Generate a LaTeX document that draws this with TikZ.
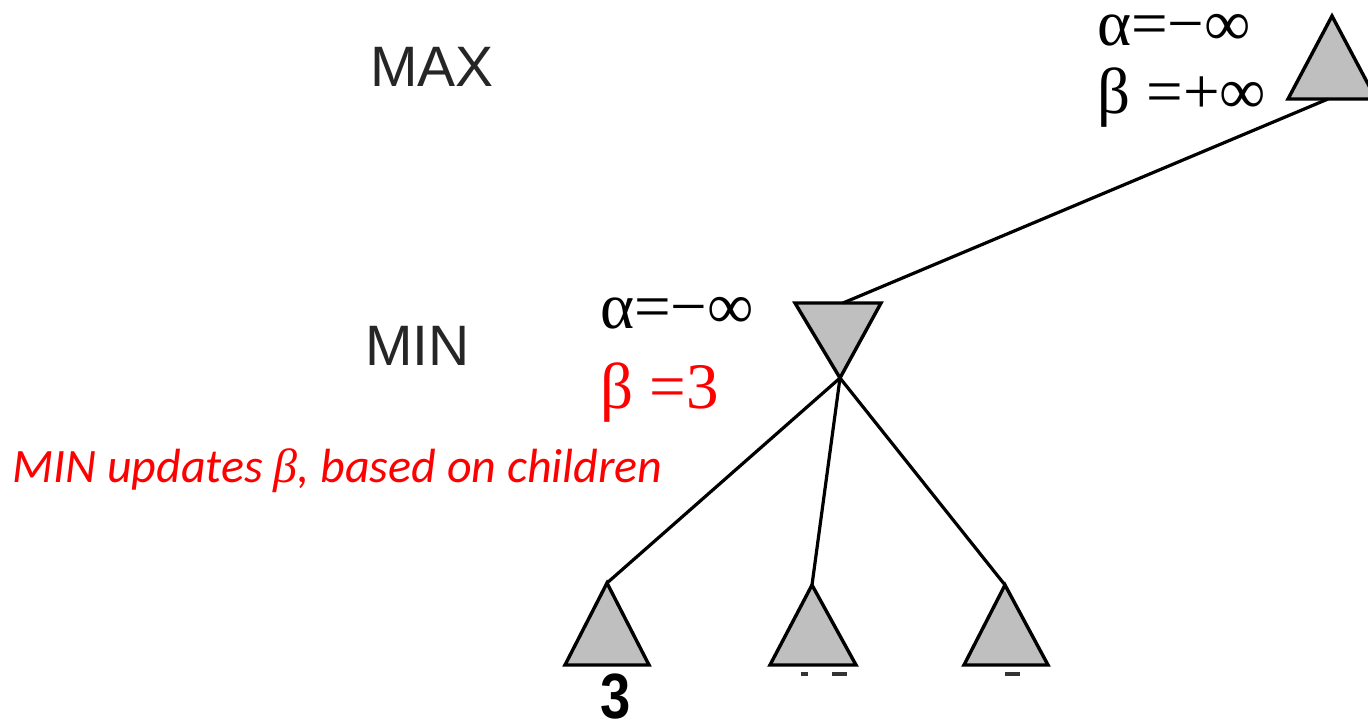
\documentclass[tikz,border=0pt]{standalone}
\usepackage{fontspec}
\setmainfont{Liberation Serif}
\newfontfamily\arialf{Liberation Sans}
\newfontfamily\calif{Carlito}
\begin{document}
\begin{tikzpicture}[x=1pt,y=-1pt,
  tri/.style={draw=black,fill=gray!50,line width=3.4pt,line join=miter},
  edge/.style={draw=black,line width=3.2pt},
  lvl/.style={anchor=base west,inner sep=0pt,text=black!85,font=\arialf\fontsize{57}{64}\selectfont},
  ab/.style={anchor=base west,inner sep=0pt,font=\fontsize{65}{72}\selectfont},
  leaflbl/.style={anchor=base,inner sep=0pt,font=\arialf\bfseries\fontsize{64}{70}\selectfont}]
\useasboundingbox (0,0) rectangle (1368,723);
\fill[white] (0,0) rectangle (1368,723);
\begin{scope}
\clip (0,0) rectangle (1368,723);
% root (MAX)
\coordinate (rA) at (1332,16);
\coordinate (rL) at (1288,99);
\coordinate (rR) at (1376,99);
\coordinate (rB) at (1328,99);
\draw[tri] (rA) -- (rL) -- (rR) -- cycle;
% MIN node
\coordinate (mL) at (795,303);
\coordinate (mR) at (881,303);
\coordinate (mB) at (840,378);
\coordinate (mT) at (843,303);
\draw[tri] (mL) -- (mR) -- (mB) -- cycle;
% leaves
\coordinate (l1) at (607,583);
\draw[tri] (l1) -- (565,665) -- (649,665) -- cycle;
\coordinate (l2) at (812,585);
\draw[tri] (l2) -- (770,665) -- (856,665) -- cycle;
\coordinate (l3) at (1005,585);
\draw[tri] (l3) -- (964,665) -- (1048,665) -- cycle;
\end{scope}
% connectors
\draw[edge] (rB) -- (mT);
\draw[edge] (mB) -- (l1);
\draw[edge] (mB) -- (l2);
\draw[edge] (mB) -- (l3);
% labels
\node[lvl] (max) at (370,86) {MAX};
\node[lvl] (min) at (365,365) {MIN};
\node[ab] (ra) at (1097,45) {α=−∞};
\node[ab] (rb) at (1097,113) {β =+∞};
\node[ab] (ma) at (600,328) {α=−∞};
\node[ab,text=red] (mb) at (600,408) {β =3};
\node[anchor=base west,inner sep=0pt,text=red,font=\calif\itshape\fontsize{48}{56}\selectfont] (note) at (12,482) {MIN updates \textit{\fontspec{Liberation Serif}β}, based on children};
\node[leaflbl,xscale=0.85] (v1) at (616,718) {3};
% cut-off value fragments
\fill[black!80] (801,672) rectangle (808,676);
\fill[black!80] (832,672) rectangle (847,676);
\fill[black!80] (1005,672) rectangle (1020,676);
\end{tikzpicture}
\end{document}
